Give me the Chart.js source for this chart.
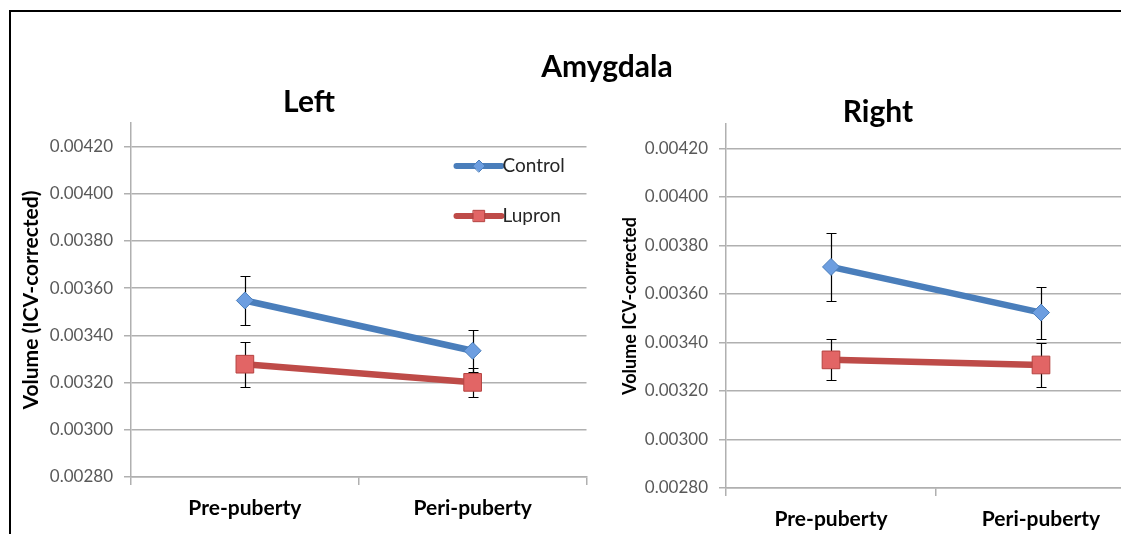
<!DOCTYPE html>
<html>
<head>
<meta charset="utf-8">
<script src="https://cdn.jsdelivr.net/npm/chart.js@4.4.1/dist/chart.umd.min.js"></script>
<style>
  html, body { margin: 0; padding: 0; background: #fff; overflow: hidden; }
  #page { position: relative; width: 1121px; height: 534px; overflow: hidden; font-family: Lato, sans-serif; }
  #frameTop { position: absolute; left: 9px; top: 10px; width: 1112px; height: 2px; background: #000; }
  #frameLeft { position: absolute; left: 9px; top: 10px; width: 2px; height: 524px; background: #000; }
  .title { position: absolute; width: 300px; text-align: center; font-weight: bold; font-size: 30px; line-height: 30px; color: #000; }
  #leftChart { position: absolute; left: 0; top: 0; }
  #rightChart { position: absolute; left: 600px; top: 0; }
</style>
</head>
<body>
<div id="page">
  <div id="frameTop"></div>
  <div id="frameLeft"></div>
  <canvas id="leftChart" width="600" height="534"></canvas>
  <canvas id="rightChart" width="560" height="534"></canvas>
  <div class="title" style="left:457px; top:50px;">Amygdala</div>
  <div class="title" style="left:159px; top:85px;">Left</div>
  <div class="title" style="left:728px; top:95px;">Right</div>
</div>
<script>
var categories = ['Pre-puberty', 'Peri-puberty'];
var yTicks = [0.0028, 0.0030, 0.0032, 0.0034, 0.0036, 0.0038, 0.0040, 0.0042];
var seriesNames = ['Control', 'Lupron'];

// left hemisphere
var leftControl = [0.003548, 0.003335];
var leftControlErr = [0.000104, 0.000090];
var leftLupron = [0.003278, 0.003201];
var leftLupronErr = [0.000096, 0.000062];

// right hemisphere
var rightControl = [0.003711, 0.003523];
var rightControlErr = [0.000139, 0.000107];
var rightLupron = [0.003328, 0.003307];
var rightLupronErr = [0.000084, 0.000090];

var gridGray = '#b0b0b0';

var errorBars = {
    id: 'errorBars',
    beforeDatasetsDraw: function(chart) {
        var ctx = chart.ctx;
        var yScale = chart.scales.y;
        ctx.save();
        ctx.strokeStyle = '#000';
        ctx.lineWidth = 1.2;
        chart.data.datasets.forEach(function(ds, i) {
            var meta = chart.getDatasetMeta(i);
            meta.data.forEach(function(pt, j) {
                var x = Math.round(pt.x) + 0.5;
                var top = Math.round(yScale.getPixelForValue(ds.data[j] + ds.errors[j])) + 0.5;
                var bot = Math.round(yScale.getPixelForValue(ds.data[j] - ds.errors[j])) + 0.5;
                ctx.beginPath();
                ctx.moveTo(x, top);
                ctx.lineTo(x, bot);
                ctx.moveTo(x - 5, top);
                ctx.lineTo(x + 5, top);
                ctx.moveTo(x - 5, bot);
                ctx.lineTo(x + 5, bot);
                ctx.stroke();
            });
        });
        ctx.restore();
    }
};

var insideLegend = {
    id: 'insideLegend',
    afterDatasetsDraw: function(chart) {
        var ctx = chart.ctx;
        var area = chart.chartArea;
        ctx.save();
        chart.data.datasets.forEach(function(ds, i) {
            var x0 = area.right - 130;
            var y = area.top + 43 + i * 50;
            ctx.strokeStyle = ds.borderColor;
            ctx.lineWidth = 6;
            ctx.lineCap = 'round';
            ctx.beginPath();
            ctx.moveTo(x0, y);
            ctx.lineTo(x0 + 45, y);
            ctx.stroke();
            ctx.fillStyle = ds.pointBackgroundColor;
            ctx.strokeStyle = ds.pointBorderColor;
            ctx.lineWidth = 1;
            Chart.helpers.drawPoint(ctx, {
                pointStyle: ds.pointStyle,
                radius: ds.pointStyle === 'rect' ? 8 : 6,
                borderWidth: 1,
                rotation: 0
            }, x0 + 22.5, y);
            ctx.fillStyle = '#262626';
            ctx.font = '19px Lato';
            ctx.textAlign = 'left';
            ctx.textBaseline = 'middle';
            ctx.fillText(ds.label, x0 + 46, y);
        });
        ctx.restore();
    }
};

function makeDatasets(control, controlErr, lupron, lupronErr) {
    return [
        {
            label: seriesNames[0],
            data: control,
            errors: controlErr,
            borderColor: '#4a7ebb',
            borderWidth: 6.5,
            pointStyle: 'rectRot',
            pointRadius: 8.5,
            pointBackgroundColor: '#6d9ee0',
            pointBorderColor: '#4a7ebb',
            pointBorderWidth: 1,
            tension: 0
        },
        {
            label: seriesNames[1],
            data: lupron,
            errors: lupronErr,
            borderColor: '#be4b48',
            borderWidth: 6.5,
            pointStyle: 'rect',
            pointRadius: 12.5,
            pointBackgroundColor: '#e26565',
            pointBorderColor: '#b54340',
            pointBorderWidth: 1,
            tension: 0
        }
    ];
}

function makeOptions(cfg) {
    return {
        responsive: false,
        animation: false,
        layout: {
            padding: { top: cfg.top, right: cfg.right, left: 0, bottom: 0 }
        },
        scales: {
            x: {
                offset: true,
                afterFit: function(scale) { scale.height = cfg.xHeight; },
                grid: {
                    offset: true,
                    drawOnChartArea: false,
                    drawTicks: true,
                    tickLength: 8,
                    color: gridGray,
                    lineWidth: 1.5
                },
                border: { display: true, color: gridGray, width: 1.5 },
                ticks: {
                    padding: 11,
                    color: '#000',
                    font: { family: 'Lato', size: 21, weight: 'bold' }
                }
            },
            y: {
                min: 0.0028,
                max: 0.0043,
                afterFit: function(scale) { scale.width = cfg.yWidth; },
                afterBuildTicks: function(scale) {
                    scale.ticks = yTicks.map(function(v) { return { value: v }; });
                },
                grid: {
                    color: gridGray,
                    lineWidth: 1.5,
                    tickLength: 7
                },
                border: { display: true, color: gridGray, width: 1.5 },
                ticks: {
                    padding: 11,
                    color: '#595959',
                    font: { family: 'Lato', size: 17 },
                    callback: function(v) { return Number(v).toFixed(5); }
                },
                title: {
                    display: true,
                    text: cfg.yTitle,
                    color: '#000',
                    padding: { top: cfg.titlePad, bottom: 0 },
                    font: { family: 'Lato', size: cfg.yTitleSize, weight: 'bold' }
                }
            }
        },
        plugins: {
            legend: { display: false },
            tooltip: { enabled: false }
        }
    };
}

new Chart(document.getElementById('leftChart').getContext('2d'), {
    type: 'line',
    data: {
        labels: categories,
        datasets: makeDatasets(leftControl, leftControlErr, leftLupron, leftLupronErr)
    },
    options: makeOptions({
        top: 123, right: 13, xHeight: 57, yWidth: 131,
        yTitle: 'Volume (ICV-corrected)', yTitleSize: 21, titlePad: 19
    }),
    plugins: [errorBars, insideLegend]
});

new Chart(document.getElementById('rightChart').getContext('2d'), {
    type: 'line',
    data: {
        labels: categories,
        datasets: makeDatasets(rightControl, rightControlErr, rightLupron, rightLupronErr)
    },
    options: makeOptions({
        top: 124, right: 14, xHeight: 46, yWidth: 126,
        yTitle: 'Volume ICV-corrected', yTitleSize: 18, titlePad: 19
    }),
    plugins: [errorBars]
});
</script>
</body>
</html>
